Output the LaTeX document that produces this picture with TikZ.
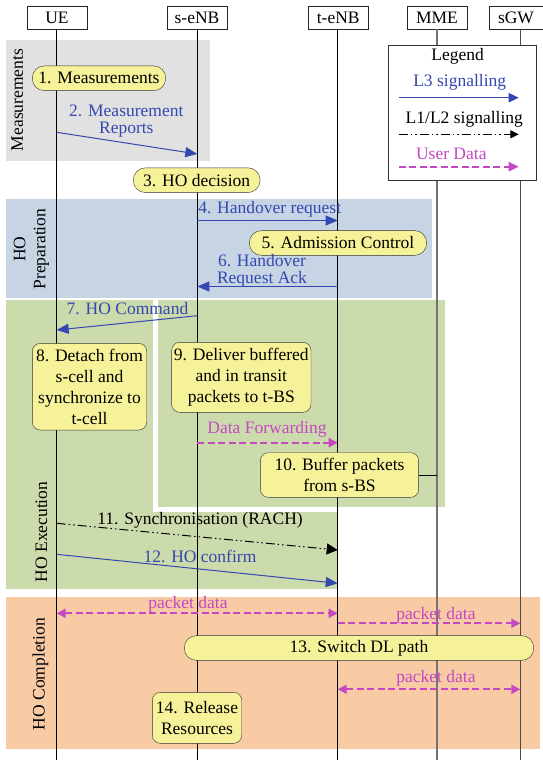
\documentclass[tikz,border=0pt]{standalone}
\usepackage{fontspec}
\setmainfont{Liberation Serif}
\usetikzlibrary{arrows.meta}
\definecolor{sigblue}{RGB}{52,72,176}
\definecolor{datapink}{RGB}{196,72,196}
\definecolor{measgray}{RGB}{225,225,225}
\definecolor{prepblue}{RGB}{198,212,228}
\definecolor{execgreen}{RGB}{204,219,172}
\definecolor{complorange}{RGB}{248,203,165}
\definecolor{stepyellow}{RGB}{246,242,153}

\begin{document}
\begin{tikzpicture}[x=1pt,y=-1pt,
	every node/.style={font=\fontsize{17.5}{21}\selectfont},
	head/.style={draw=black!85,fill=white,minimum width=60.6pt,minimum height=22.6pt,inner sep=0pt},
	pill/.style={draw=black!80,fill=stepyellow,rounded corners=12pt,minimum height=24.7pt,inner sep=0pt},
	roundbox/.style={draw=black!80,fill=stepyellow,rounded corners=8pt,align=center,inner sep=0pt},
	tight/.style={align=center,font=\fontsize{17.5}{17}\selectfont},
	phase/.style={rotate=90,align=center,font=\fontsize{17.5}{20}\selectfont},
	l3/.style={sigblue,line width=1pt,-{Triangle[length=12pt,width=10pt]}},
	l12/.style={black,line width=1pt,dash pattern=on 9pt off 3pt on 1.5pt off 3pt on 1.5pt off 3pt,-{Triangle[length=11pt,width=11pt]}},
	udata/.style={datapink,line width=2pt,dash pattern=on 7pt off 3.5pt,-{Triangle[length=9pt,width=9pt]}},
	udatab/.style={datapink,line width=2pt,dash pattern=on 7pt off 3.5pt,{Triangle[length=9pt,width=9pt]}-{Triangle[length=9pt,width=9pt]}}]
	\useasboundingbox (0,0) rectangle (543,760);

	% phases
	\fill[measgray] (6,40) rectangle (210,160.7);
	\fill[prepblue] (6,199.3) rectangle (432,297.7);
	\fill[execgreen] (6,300) rectangle (445,507);
	\fill[execgreen] (6,507) rectangle (337.7,589.3);
	\draw[white,line width=5.6pt] (155.5,300) -- (155.5,509.5) -- (446,509.5);
	\fill[complorange] (6,597.3) rectangle (539.7,749.3);

	\node[phase] (meas) at (17.3,100) {Measurements};
	\node[phase] (prep) at (31.5,249) {HO\\Preparation};
	\node[phase] (exec) at (41.5,532) {HO Execution};
	\node[phase] (compl) at (40.5,674) {HO Completion};

	% entities
	\node[head] (ue) at (57,18) {UE};
	\node[head] (senb) at (197,18) {s-eNB};
	\node[head] (tenb) at (338.2,18) {t-eNB};
	\node[head] (mme) at (437,18) {MME};
	\node[head,minimum width=53.4pt] (sgw) at (516,18) {sGW};

	\coordinate (ueEnd) at (56.7,760);
	\coordinate (senbEnd) at (197.3,760);
	\coordinate (tenbEnd) at (337.7,760);
	\coordinate (mmeEnd) at (437,760);
	\coordinate (sgwEnd) at (520.3,760);

	\draw[line width=0.9pt] (ue.south -| ueEnd) -- (ueEnd);
	\draw[line width=0.9pt] (senb.south -| senbEnd) -- (senbEnd);
	\draw[line width=0.9pt] (tenb.south -| tenbEnd) -- (tenbEnd);
	\draw[line width=1.4pt,black!55] (mme.south -| mmeEnd) -- (mmeEnd);
	\draw[line width=1pt,black!70] (sgw.south -| sgwEnd) -- (sgwEnd);

	% legend
	\node[draw=black!80,fill=white,minimum width=148.6pt,minimum height=134.3pt,inner sep=0pt] (legend) at (462,112.85) {};
	\node (legtitle) at (457.7,56.7) {Legend};
	\node[sigblue] (legl3) at (459.7,82.3) {L3 signalling};
	\node (legl12) at (464.3,119.3) {L1/L2 signalling};
	\node[datapink] (legdata) at (451.3,154.3) {User Data};
	\coordinate (l3a) at (398.7,97.7);
	\coordinate (l3b) at (518.7,97.7);
	\coordinate (l12a) at (398.7,134.3);
	\coordinate (l12b) at (518.7,134.3);
	\coordinate (uda) at (398.7,166.7);
	\coordinate (udb) at (518.7,166.7);
	\draw[l3,-{Triangle[length=10pt,width=9.3pt]}] (l3a) -- (l3b);
	\draw[l12,-{Triangle[length=8.3pt,width=8pt]}] (l12a) -- (l12b);
	\draw[udata,-{Triangle[length=10pt,width=9pt]}] (uda) -- (udb);

	% steps
	\node[pill,minimum width=133.4pt] (step1) at (99,78.3) {1. Measurements};
	\node[pill,minimum width=126.7pt] (step3) at (196.7,180.2) {3. HO decision};
	\node[pill,minimum width=177.3pt] (step5) at (338,243) {5. Admission Control};
	\node[roundbox,minimum width=114.4pt,minimum height=86.7pt] (step8) at (89.5,386.7) {8. Detach from\\s-cell and\\synchronize to\\t-cell};
	\node[roundbox,minimum width=139.3pt,minimum height=70pt] (step9) at (241.3,377.3) {9. Deliver buffered\\and in transit\\packets to t-BS};
	\node[roundbox,minimum width=158.3pt,minimum height=44.6pt] (step10) at (339.5,475) {10. Buffer packets\\from s-BS};
	\node[pill,minimum width=349.4pt] (step13) at (359,648) {13. Switch DL path};
	\node[roundbox,minimum width=89.4pt,minimum height=51pt] (step14) at (197,717.8) {14. Release\\Resources};

	\coordinate (mme10) at (437,475);
	\draw[line width=0.8pt] (step10.east) -- (mme10);

	% messages
	\coordinate (ue2) at (56.7,132.3);
	\coordinate (se2) at (197.3,154);
	\coordinate (se4) at (197.3,220.5);
	\coordinate (te4) at (337.7,220.5);
	\coordinate (te6) at (337.7,286.5);
	\coordinate (se6) at (197.3,286.5);
	\coordinate (se7) at (197.3,315.7);
	\coordinate (ue7) at (56.7,330);
	\coordinate (se9) at (197.3,442.7);
	\coordinate (te9) at (337.7,442.7);
	\coordinate (ue11) at (56.7,523.3);
	\coordinate (te11) at (337.7,550);
	\coordinate (ue12) at (56.7,554.3);
	\coordinate (te12) at (337.7,583.3);
	\coordinate (ue13) at (56.7,613.3);
	\coordinate (te13a) at (337.7,613.3);
	\coordinate (te13b) at (337.7,623.3);
	\coordinate (gw13) at (520.3,623.3);
	\coordinate (te14) at (337.7,689.3);
	\coordinate (gw14) at (520.3,689.3);

	\node[tight,sigblue] (msg2) at (126.3,121.5) {2. Measurement\\Reports};
	\node[sigblue] (msg4) at (269.7,209) {4. Handover request};
	\node[tight,sigblue] (msg6) at (262,270.5) {6. Handover\\Request Ack};
	\node[sigblue] (msg7) at (127.5,308.3) {7. HO Command};
	\node[datapink] (fwd) at (267,429) {Data Forwarding};
	\node (msg11) at (200,520) {11. Synchronisation (RACH)};
	\node[sigblue] (msg12) at (200,556.7) {12. HO confirm};
	\node[datapink] (pd1) at (188,604) {packet data};
	\node[datapink] (pd2) at (436,615) {packet data};
	\node[datapink] (pd3) at (436,678.3) {packet data};

	\draw[l3] (ue2) -- (se2);
	\draw[l3] (se4) -- (te4);
	\draw[l3] (te6) -- (se6);
	\draw[l3] (se7) -- (ue7);
	\draw[udata] (se9) -- (te9);
	\draw[l12] (ue11) -- (te11);
	\draw[l3] (ue12) -- (te12);
	\draw[udatab] (ue13) -- (te13a);
	\draw[udata] (te13b) -- (gw13);
	\draw[udatab] (te14) -- (gw14);
\end{tikzpicture}
\end{document}
